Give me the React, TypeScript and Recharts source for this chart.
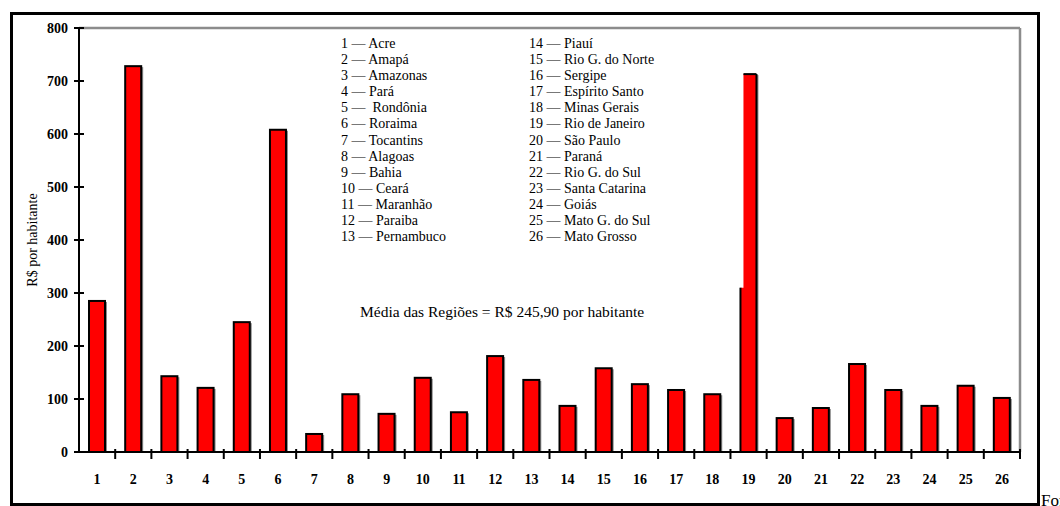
import { BarChart, Bar, XAxis, YAxis } from 'recharts';

// state index shown on the x axis
const stateCodes = [
  '1', '2', '3', '4', '5', '6', '7', '8', '9', '10', '11', '12', '13',
  '14', '15', '16', '17', '18', '19', '20', '21', '22', '23', '24', '25', '26',
];

const stateNames = [
  'Acre', 'Amapá', 'Amazonas', 'Pará', ' Rondônia', 'Roraima', 'Tocantins',
  'Alagoas', 'Bahia', 'Ceará', 'Maranhão', 'Paraiba', 'Pernambuco',
  'Piauí', 'Rio G. do Norte', 'Sergipe', 'Espírito Santo', 'Minas Gerais',
  'Rio de Janeiro', 'São Paulo', 'Paraná', 'Rio G. do Sul', 'Santa Catarina',
  'Goiás', 'Mato G. do Sul', 'Mato Grosso',
];

// R$ por habitante
const perCapita = [
  285, 728, 143, 121, 245, 608, 34, 109, 72, 140, 75, 181, 136,
  87, 158, 128, 117, 109, 713, 64, 83, 166, 117, 87, 125, 102,
];

// bar 19 is drawn with a step in its left edge in the original
const leftEdgeStep: (number | null)[] = [
  null, null, null, null, null, null, null, null, null, null, null, null, null,
  null, null, null, null, null, 310, null, null, null, null, null, null, null,
];

const yTicks = [0, 100, 200, 300, 400, 500, 600, 700, 800];

const data = stateCodes.map((code, i) => ({
  code,
  name: stateNames[i],
  value: perCapita[i],
  step: leftEdgeStep[i],
}));

const W = 1060;
const H = 506;
// plot area: x 79..1020, y 28..452
const margin = { top: 27, right: 39, bottom: 24, left: 19 };
const band = (1020 - 79) / data.length;
const font = '"Liberation Serif", "Times New Roman", serif';

const XTick = (props: any) => {
  const { x, y, payload } = props;
  const bx = x + band / 2;
  return (
    <g>
      <line x1={bx} x2={bx} y1={y - 5} y2={y + 5} stroke="#000" strokeWidth={2} />
      <text x={x} y={y + 30} textAnchor="middle" fontFamily={font} fontSize={14} fontWeight="bold" fill="#000">
        {payload.value}
      </text>
    </g>
  );
};

const YTick = (props: any) => {
  const { x, y, payload } = props;
  const ax = x + 11;
  return (
    <g>
      <line x1={ax - 5} x2={ax + 5} y1={y} y2={y} stroke="#000" strokeWidth={2} />
      <text x={x} y={y + 5} textAnchor="end" fontFamily={font} fontSize={14} fontWeight="bold" fill="#000">
        {payload.value}
      </text>
    </g>
  );
};

const BarShape = (props: any) => {
  const { x, y, width, height, payload } = props;
  const base = y + height;
  const right = x + width;
  if (payload.step) {
    const ys = y + height * (1 - payload.step / payload.value);
    const nx = x + 3;
    return (
      <g>
        <rect x={right} y={y + 1} width={2} height={height - 1} fill="#8c8c8c" />
        <path d={`M${x},${base} L${x},${ys} L${nx},${ys} L${nx},${y} L${right},${y} L${right},${base} Z`} fill="#ff0000" />
        <line x1={x} x2={x} y1={ys} y2={base} stroke="#000" strokeWidth={2} />
        <line x1={nx} x2={right} y1={y} y2={y} stroke="#000" strokeWidth={2} />
        <line x1={right} x2={right} y1={y} y2={base} stroke="#000" strokeWidth={2} />
      </g>
    );
  }
  return (
    <g>
      <rect x={right} y={y + 1} width={2} height={height - 1} fill="#8c8c8c" />
      <rect x={x} y={y} width={width} height={height} fill="#ff0000" stroke="#000" strokeWidth={2} />
    </g>
  );
};

const legendLeft = data.slice(0, 13);
const legendRight = data.slice(13);

const legendCol = (rows: typeof data, left: number) => (
  <div
    style={{
      position: 'absolute', left, top: 36, fontFamily: font, fontSize: 14,
      lineHeight: '16.1px', whiteSpace: 'pre', color: '#000',
    }}
  >
    {rows.map((r) => (
      <div key={r.code}>{`${r.code} — ${r.name}`}</div>
    ))}
  </div>
);

export default function App() {
  return (
    <div style={{ position: 'fixed', left: 0, top: 0, width: W, height: H, overflow: 'hidden', background: '#fff' }}>
      <div
        style={{
          position: 'absolute', left: 10, top: 12, width: 1030, height: 494,
          border: '3px solid #000', boxSizing: 'border-box',
        }}
      />
      <div style={{ position: 'absolute', left: 0, top: 0 }}>
        <BarChart width={W} height={H} data={data} margin={margin}>
          <XAxis
            xAxisId="top" orientation="top" dataKey="code" height={1}
            tick={false} tickLine={false} axisLine={{ stroke: '#8c8c8c', strokeWidth: 2.5 }}
          />
          <YAxis
            yAxisId="right" orientation="right" width={1} domain={[0, 800]}
            tick={false} tickLine={false} axisLine={{ stroke: '#8c8c8c', strokeWidth: 2.5 }}
          />
          <XAxis
            dataKey="code" height={30} interval={0} tickSize={0} tickLine={false}
            axisLine={{ stroke: '#000', strokeWidth: 2 }} tick={<XTick />}
          />
          <YAxis
            width={60} domain={[0, 800]} ticks={yTicks} interval={0} tickSize={0} tickMargin={11}
            tickLine={false} axisLine={{ stroke: '#000', strokeWidth: 2 }} tick={<YTick />}
          />
          <Bar dataKey="value" barSize={16} shape={<BarShape />} isAnimationActive={false} />
        </BarChart>
      </div>
      {legendCol(legendLeft, 341)}
      {legendCol(legendRight, 529)}
      <div
        style={{
          position: 'absolute', left: 360, top: 303, fontFamily: font, fontSize: 15.5,
          whiteSpace: 'nowrap', color: '#000',
        }}
      >
        Média das Regiões = R$ 245,90 por habitante
      </div>
      <div
        style={{
          position: 'absolute', left: 33, top: 240, fontFamily: font, fontSize: 14,
          whiteSpace: 'nowrap', color: '#000', transform: 'translate(-50%, -50%) rotate(-90deg)',
        }}
      >
        R$ por habitante
      </div>
      <div
        style={{
          position: 'absolute', left: 1041, top: 492, fontFamily: font, fontSize: 17,
          lineHeight: '17px', whiteSpace: 'nowrap', color: '#000',
        }}
      >
        Fonte:
      </div>
    </div>
  );
}
